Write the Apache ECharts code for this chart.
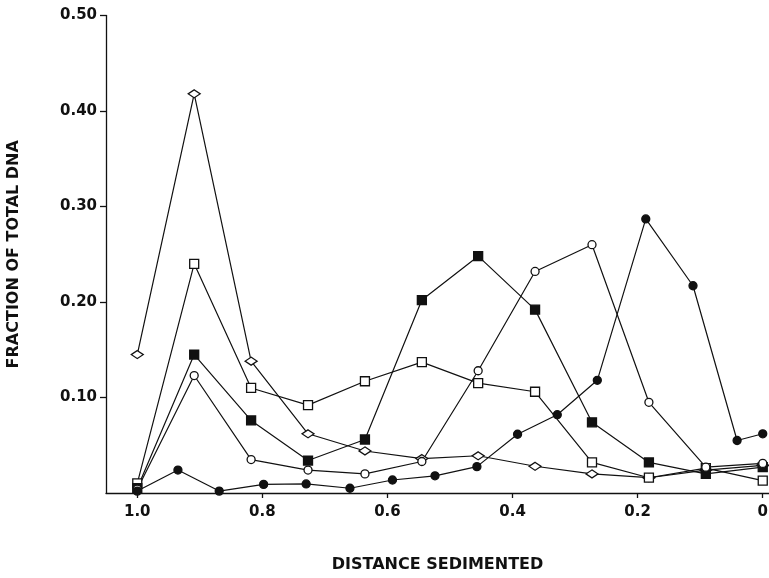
<!DOCTYPE html>
<html lang="en">
<head>
    <meta charset="UTF-8">
    <title>Fraction of total DNA</title>
    <script src="https://cdn.jsdelivr.net/npm/echarts@6/dist/echarts.min.js"></script>
</head>
<style>
html,body{margin: 0;padding: 0;background-color: #fff}
#chartBox{width: 769px;height: 578px}
</style>
<body>
    <div id="chartBox"></div>
</body>
<script>
// x positions of the fractions (11 equal steps) and of the finer filled-circle run
let fractionX = [1.0, 0.909, 0.818, 0.727, 0.636, 0.545, 0.455, 0.364, 0.273, 0.182, 0.091, 0.0];
let fineX = [1.0, 0.935, 0.869, 0.798, 0.73, 0.66, 0.592, 0.524, 0.457, 0.392, 0.3285, 0.2645, 0.187, 0.1115, 0.041, 0.0];

let openDiamond = [0.145, 0.418, 0.138, 0.062, 0.044, 0.036, 0.039, 0.028, 0.020, 0.016, 0.024, 0.029];
let openSquare = [0.010, 0.240, 0.110, 0.092, 0.117, 0.137, 0.115, 0.106, 0.032, 0.016, 0.026, 0.013];
let filledSquare = [0.005, 0.145, 0.076, 0.034, 0.056, 0.202, 0.248, 0.192, 0.074, 0.032, 0.020, 0.027];
let openCircle = [0.004, 0.123, 0.035, 0.024, 0.020, 0.033, 0.128, 0.232, 0.260, 0.095, 0.027, 0.031];
let filledCircle = [0.002, 0.024, 0.002, 0.009, 0.0095, 0.005, 0.0136, 0.018, 0.0276, 0.0615, 0.082, 0.118, 0.287, 0.217, 0.055, 0.062];

let xTicks = [1.0, 0.8, 0.6, 0.4, 0.2, 0];

const INK = '#111';
const FONT = 'DejaVu Sans';

// one line series with its marker
function makeSeries(name, xs, ys, symbol, size, filled) {
    return {
        type: 'line',
        name: name,
        data: xs.map((x, i) => [x, ys[i]]),
        symbol: symbol,
        symbolSize: size,
        showAllSymbol: true,
        animation: false,
        lineStyle: {color: INK, width: 1.2},
        itemStyle: {
            color: filled ? INK : '#fff',
            borderColor: INK,
            borderWidth: 1.3
        }
    };
}

let chartObj = echarts.init(document.getElementById('chartBox'));
let option = {
    backgroundColor: '#fff',
    animation: false,
    grid: {left: 106, right: 0, top: 15.5, bottom: 85, show: false, containLabel: false, outerBoundsMode: 'none'},
    xAxis: {
        type: 'value',
        inverse: true,
        min: -0.01,
        max: 1.05,
        name: 'DISTANCE SEDIMENTED',
        nameLocation: 'middle',
        nameGap: 64,
        nameTextStyle: {color: INK, fontFamily: FONT, fontWeight: 'bold', fontSize: 16},
        axisLine: {onZero: false, lineStyle: {color: INK, width: 1.3}},
        axisTick: {length: 5, customValues: xTicks, lineStyle: {color: INK, width: 1.3}},
        axisLabel: {
            customValues: xTicks,
            margin: 12,
            color: INK,
            fontFamily: FONT,
            fontWeight: 'bold',
            fontSize: 15,
            formatter: v => v === 0 ? '0' : v.toFixed(1)
        },
        splitLine: {show: false}
    },
    yAxis: {
        type: 'value',
        min: 0,
        max: 0.5,
        interval: 0.1,
        name: 'FRACTION OF TOTAL DNA',
        nameLocation: 'middle',
        nameGap: 84,
        nameTextStyle: {color: INK, fontFamily: FONT, fontWeight: 'bold', fontSize: 16},
        axisLine: {show: true, onZero: false, lineStyle: {color: INK, width: 1.3}},
        axisTick: {show: true, length: 6, lineStyle: {color: INK, width: 1.3}},
        axisLabel: {
            showMinLabel: false,
            margin: 9,
            color: INK,
            fontFamily: FONT,
            fontWeight: 'bold',
            fontSize: 15,
            formatter: v => v.toFixed(2)
        },
        splitLine: {show: false}
    },
    series: [
        makeSeries('diamond', fractionX, openDiamond, 'diamond', [12, 8], false),
        makeSeries('open square', fractionX, openSquare, 'rect', 9, false),
        makeSeries('filled square', fractionX, filledSquare, 'rect', 9, true),
        makeSeries('open circle', fractionX, openCircle, 'circle', 8, false),
        makeSeries('filled circle', fineX, filledCircle, 'circle', 8, true)
    ]
};
chartObj.setOption(option, true);
</script>
</html>
